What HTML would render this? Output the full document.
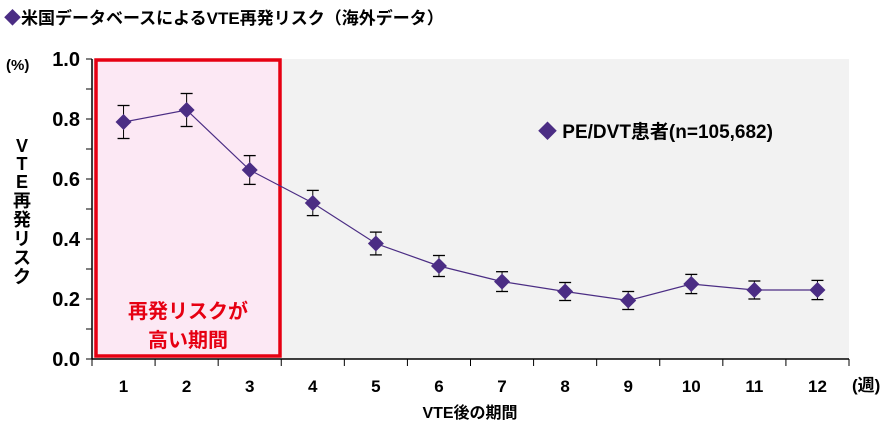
<!DOCTYPE html>
<html><head><meta charset="utf-8"><style>
body{margin:0;width:880px;height:433px;background:#fff;font-family:"Liberation Sans","Noto Sans CJK JP",sans-serif;overflow:hidden}
svg text{font-family:"Liberation Sans","Noto Sans CJK JP",sans-serif;font-weight:bold}
</style></head><body>
<svg width="880" height="433">
<text x="4" y="24" font-size="17" fill="#000"><tspan fill="#4b2d84">◆</tspan>米国データベースによるVTE再発リスク（海外データ）</text>
<rect x="92" y="59" width="757" height="300" fill="#f2f2f2"/>
<rect x="96" y="60" width="184" height="296" fill="#fce8f4" stroke="#e60012" stroke-width="3.5"/>
<text x="188" y="318" font-size="20" fill="#e60012" text-anchor="middle">再発リスクが</text>
<text x="188" y="347" font-size="20" fill="#e60012" text-anchor="middle">高い期間</text>
<g id="axes"></g>
<g id="series"></g>
<text x="6" y="70" font-size="15">(%)</text>
<g font-size="18">
<text x="22" y="152" text-anchor="middle">V</text><text x="22" y="170" text-anchor="middle">T</text><text x="22" y="188" text-anchor="middle">E</text>
<text x="22" y="207" text-anchor="middle">再</text><text x="22" y="226" text-anchor="middle">発</text><text x="22" y="245" text-anchor="middle">リ</text><text x="22" y="264" text-anchor="middle">ス</text><text x="22" y="283" text-anchor="middle">ク</text></g>
<text x="470" y="418" font-size="16" text-anchor="middle">VTE後の期間</text>
<text x="852" y="391" font-size="17">(週)</text>
<text x="538" y="138" font-size="19"><tspan fill="#4b2d84">◆</tspan> PE/DVT患者(n=105,682)</text>
</svg>
<script>
const categories=["1","2","3","4","5","6","7","8","9","10","11","12"];
const values=[0.79,0.83,0.63,0.52,0.385,0.31,0.258,0.225,0.195,0.25,0.23,0.23];
const errors=[0.055,0.055,0.048,0.042,0.038,0.035,0.033,0.03,0.03,0.032,0.03,0.032];
const yTicks=["0.0","0.2","0.4","0.6","0.8","1.0"];
const NS="http://www.w3.org/2000/svg";
const x0=92,x1=849,y0=359,y1=59;
const bw=(x1-x0)/categories.length;
const xs=i=>x0+bw*(i+0.5);
const ys=v=>y0-(v/1.0)*(y0-y1);
function mk(t,a,p){const e=document.createElementNS(NS,t);for(const k in a)e.setAttribute(k,a[k]);p.appendChild(e);return e;}
const ax=document.getElementById('axes'),se=document.getElementById('series');
let l=mk('line',{x1:x0,y1:y1,x2:x0,y2:y0,stroke:'#000','stroke-width':1.5},ax);


l=mk('line',{x1:x0,y1:y0,x2:x1,y2:y0,stroke:'#000','stroke-width':1.5},ax);


for(let k=0;k<=10;k++){const y=ys(k/10);mk('line',{x1:x0-6,y1:y,x2:x0,y2:y,stroke:'#000'},ax);}
yTicks.forEach(t=>{const e=mk('text',{x:x0-12,y:ys(parseFloat(t))+7,'font-size':20,'text-anchor':'end'},ax);e.textContent=t;

});
for(let i=0;i<=categories.length;i++){const x=x0+bw*i;mk('line',{x1:x,y1:y0,x2:x,y2:y0+7,stroke:'#000'},ax);}
categories.forEach((c,i)=>{const e=mk('text',{x:xs(i),y:392,'font-size':17,'text-anchor':'middle'},ax);e.textContent=c;

});
const pl=mk('polyline',{points:values.map((v,i)=>xs(i)+','+ys(v)).join(' '),fill:'none',stroke:'#4b2d84','stroke-width':1.2},se);


values.forEach((v,i)=>{const x=xs(i),y=ys(v),e=errors[i];
const g=mk('g',{},se);


mk('line',{x1:x,y1:ys(v+e),x2:x,y2:ys(v-e),stroke:'#000'},g);
mk('line',{x1:x-6,y1:ys(v+e),x2:x+6,y2:ys(v+e),stroke:'#000','stroke-width':1.3},g);
mk('line',{x1:x-6,y1:ys(v-e),x2:x+6,y2:ys(v-e),stroke:'#000','stroke-width':1.3},g);
const d=mk('polygon',{points:`${x},${y-8} ${x+8},${y} ${x},${y+8} ${x-8},${y}`,fill:'#4b2d84'},se);

});
</script>
</body></html>
